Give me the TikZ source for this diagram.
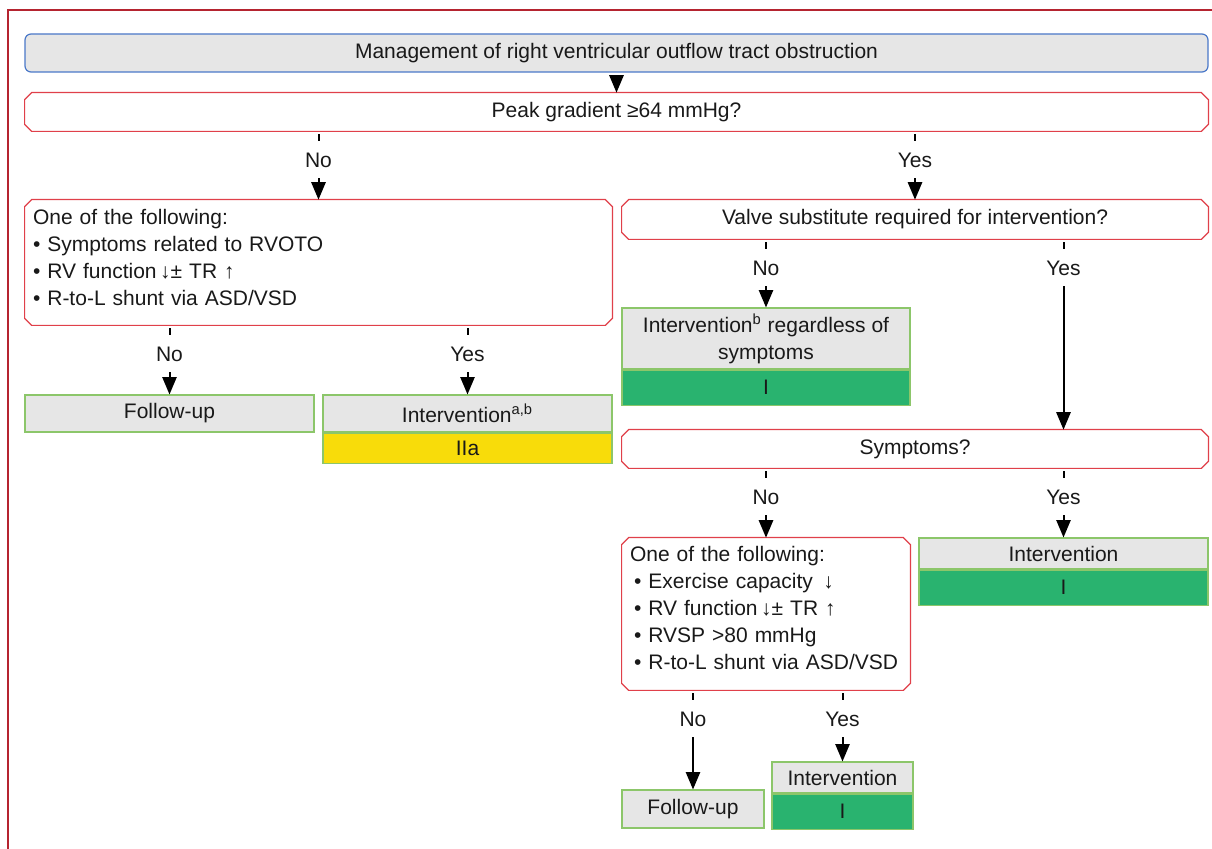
\documentclass[tikz,border=0pt]{standalone}
\usepackage{fontspec}
\setmainfont{Liberation Sans}
\usepackage{pgf,tikz}
\usetikzlibrary{shapes, arrows, positioning}

\definecolor{framered}{HTML}{B52430}
\definecolor{askred}{HTML}{E0404A}
\definecolor{titleblue}{HTML}{4A78C8}
\definecolor{boxgrey}{HTML}{E6E6E6}
\definecolor{boxgreen}{HTML}{8CC66A}
\definecolor{classI}{HTML}{29B36F}
\definecolor{classIIa}{HTML}{F8DC0A}

% cut-corner outline round a question node
\newcommand{\askframe}[1]{%
  \draw[draw=askred, line width=0.6pt]
    ([xshift=3.5pt]#1.north west) -- ([xshift=-3.5pt]#1.north east)
    -- ([yshift=-3.5pt]#1.north east) -- ([yshift=3.5pt]#1.south east)
    -- ([xshift=-3.5pt]#1.south east) -- ([xshift=3.5pt]#1.south west)
    -- ([yshift=3.5pt]#1.south west) -- ([yshift=-3.5pt]#1.north west) -- cycle;}

\begin{document}
\begin{tikzpicture}[x=0.5pt, y=-0.5pt, >=triangle 45,
  every node/.style={font=\fontsize{10.5}{13.5}\selectfont, text=black!90},
  title/.style={draw=titleblue, fill=boxgrey, rounded corners=3pt, line width=0.6pt,
    minimum width=591.5pt, minimum height=19pt, inner sep=0pt},
  ask/.style={rectangle, inner sep=0pt},
  list/.style={align=left, inner xsep=4pt},
  plan/.style={draw=boxgreen, fill=boxgrey, line width=0.6pt, inner sep=0pt},
  grade/.style={draw=boxgreen, fill=#1, line width=0.6pt, inner sep=0pt},
  link/.style={->, line width=1pt, shorten <=1.5pt},
  lbl/.style={at start, below=4.5pt, fill=white, inner xsep=2pt, inner ysep=0pt,
    minimum height=18.5pt, text height=7.5pt, text depth=0pt}
]

\useasboundingbox (0,0) rectangle (1212,849);
\draw[framered, line width=1.2pt] (8,849) -- (8,10) -- (1212,10);

\node[title] (mgmt) at (616.5,53) {Management of right ventricular outflow tract obstruction};
\node[ask, minimum width=591.5pt, minimum height=19pt] (peak) at (616.5,112) {Peak gradient ≥64 mmHg?};

% left branch
\node[ask, list, minimum width=293.5pt, minimum height=62.5pt, text width=285.5pt] (crit1) at (318.5,262.5)
  {One of the following:\\• Symptoms related to RVOTO\\• RV function\,↓± TR ↑\\• R-to-L shunt via ASD/VSD\raisebox{-5pt}{}};
\node[plan, minimum width=144.5pt, minimum height=18.5pt] (follow1) at (169.5,413.5) {Follow-up};
\node[plan, minimum width=144.5pt, minimum height=18.5pt] (interv1) at (467.5,413.5) {Intervention\textsuperscript{a,b}};
\node[grade=classIIa, minimum width=144.5pt, minimum height=15pt, below=0pt of interv1] (interv1g) {IIa};

% right branch
\node[ask, minimum width=293pt, minimum height=19.5pt] (valve) at (915,219.5) {Valve substitute required for intervention?};
\node[plan, align=center, minimum width=144pt, minimum height=30.5pt] (interv2) at (766,338.5)
  {Intervention\textsuperscript{b} regardless of\\symptoms};
\node[grade=classI, minimum width=144pt, minimum height=17.5pt, below=0pt of interv2] (interv2g) {I};
\node[ask, minimum width=293pt, minimum height=19pt] (sympt) at (915,449) {Symptoms?};
\node[ask, list, minimum width=144pt, minimum height=76pt, text width=136pt] (crit2) at (766,614)
  {One of the following:\\\hspace*{2pt}• Exercise capacity \,↓\\\hspace*{2pt}• RV function\,↓± TR ↑\\\hspace*{2pt}• RVSP >80 mmHg\\\hspace*{2pt}• R-to-L shunt via ASD/VSD\raisebox{-6pt}{}};
\node[plan, minimum width=144.5pt, minimum height=15.5pt] (interv3) at (1063.5,553.5) {Intervention};
\node[grade=classI, minimum width=144.5pt, minimum height=17.5pt, below=0pt of interv3] (interv3g) {I};
\node[plan, minimum width=71pt, minimum height=19pt] (follow2) at (693,809) {Follow-up};
\node[plan, minimum width=70.5pt, minimum height=15.5pt] (interv4) at (842.5,777.5) {Intervention};
\node[grade=classI, minimum width=70.5pt, minimum height=17.5pt, below=0pt of interv4] (interv4g) {I};

\askframe{peak}
\askframe{crit1}
\askframe{valve}
\askframe{sympt}
\askframe{crit2}

% connectors
\draw[link] (mgmt) -- (peak);
\draw[link] (peak.south -| crit1.north) -- (crit1.north) node[lbl] {No};
\draw[link] (peak.south -| valve.north) -- (valve.north) node[lbl] {Yes};
\draw[link] (crit1.south -| follow1.north) -- (follow1.north) node[lbl] {No};
\draw[link] (crit1.south -| interv1.north) -- (interv1.north) node[lbl] {Yes};
\draw[link] (valve.south -| interv2.north) -- (interv2.north) node[lbl] {No};
\draw[link] (valve.south -| interv3.north) -- (sympt.north -| interv3.north) node[lbl] {Yes};
\draw[link] (sympt.south -| crit2.north) -- (crit2.north) node[lbl] {No};
\draw[link] (sympt.south -| interv3.north) -- (interv3.north) node[lbl] {Yes};
\draw[link] (crit2.south -| follow2.north) -- (follow2.north) node[lbl] {No};
\draw[link] (crit2.south -| interv4.north) -- (interv4.north) node[lbl] {Yes};

\end{tikzpicture}
\end{document}
